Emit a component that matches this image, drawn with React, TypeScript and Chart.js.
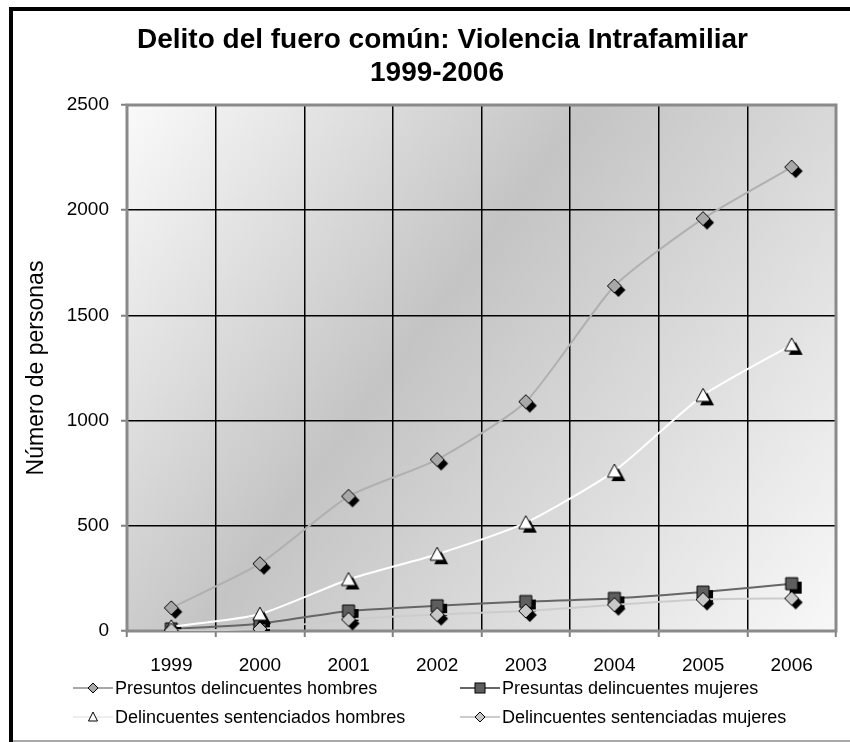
import React, { useEffect, useRef } from 'react';
import { Chart, registerables } from 'chart.js';

Chart.register(...registerables);

const FONT = "'Liberation Sans', Arial, sans-serif";

const years = ['1999', '2000', '2001', '2002', '2003', '2004', '2005', '2006'];
const presuntosHombres = [110, 320, 640, 815, 1090, 1640, 1960, 2205];
const presuntasMujeres = [10, 35, 95, 120, 140, 155, 185, 225];
const sentenciadosHombres = [20, 80, 245, 365, 515, 760, 1120, 1360];
const sentenciadasMujeres = [3, 10, 55, 78, 95, 125, 150, 155];

const titleLines = ['Delito del fuero común: Violencia Intrafamiliar', '1999-2006'];
const yTitle = 'Número de personas';
const legendNames = [
  'Presuntos delincuentes hombres',
  'Presuntas delincuentes mujeres',
  'Delincuentes sentenciados hombres',
  'Delincuentes sentenciadas mujeres',
];

type Shape = 'diamond' | 'square' | 'triangle';

function shapePath(ctx: CanvasRenderingContext2D, shape: Shape, cx: number, cy: number) {
  ctx.beginPath();
  if (shape === 'diamond') {
    ctx.moveTo(cx, cy - 7);
    ctx.lineTo(cx + 7, cy);
    ctx.lineTo(cx, cy + 7);
    ctx.lineTo(cx - 7, cy);
  } else if (shape === 'square') {
    ctx.rect(cx - 6, cy - 6, 12, 12);
  } else {
    ctx.moveTo(cx, cy - 7);
    ctx.lineTo(cx + 7, cy + 6);
    ctx.lineTo(cx - 7, cy + 6);
  }
  ctx.closePath();
}

function makeMarker(shape: Shape, fill: string): HTMLCanvasElement {
  const c = document.createElement('canvas');
  const S = 28;
  c.width = S;
  c.height = S;
  const ctx = c.getContext('2d')!;
  const m = S / 2;
  shapePath(ctx, shape, m + 4, m + 4);
  ctx.fillStyle = '#000';
  ctx.fill();
  shapePath(ctx, shape, m, m);
  ctx.fillStyle = fill;
  ctx.fill();
  ctx.lineWidth = 1;
  ctx.strokeStyle = '#000';
  ctx.stroke();
  return c;
}

const bgPlugin = {
  id: 'bgPlugin',
  beforeDraw(chart: any) {
    const { ctx, chartArea: a, width, height } = chart;
    ctx.save();
    ctx.fillStyle = '#fff';
    ctx.fillRect(0, 0, width, height);
    const g = ctx.createLinearGradient(a.left, a.top, a.right, a.bottom);
    g.addColorStop(0, '#fafafa');
    g.addColorStop(0.42, '#c4c4c4');
    g.addColorStop(1, '#f8f8f8');
    ctx.fillStyle = g;
    ctx.fillRect(a.left, a.top, a.right - a.left, a.bottom - a.top);
    ctx.fillStyle = '#000';
    ctx.fillRect(9, 7, width - 9, 4);
    ctx.fillRect(9, 7, 4, height - 7);
    ctx.fillStyle = '#a8a8a8';
    ctx.fillRect(13, height - 2, width - 13, 2);
    ctx.restore();
  },
  beforeDatasetsDraw(chart: any) {
    const { ctx, chartArea: a } = chart;
    ctx.save();
    ctx.strokeStyle = '#8a8a8a';
    ctx.lineWidth = 3;
    ctx.strokeRect(a.left, a.top, a.right - a.left, a.bottom - a.top);
    ctx.restore();
  },
};

function LegendMarker({ shape, fill, line }: { shape: Shape; fill: string; line: string }) {
  let mk: React.ReactNode;
  if (shape === 'diamond') mk = <polygon points="20,3 25,8 20,13 15,8" fill={fill} stroke="#000" strokeWidth={1} />;
  else if (shape === 'square') mk = <rect x={15} y={3} width={10} height={10} fill={fill} stroke="#000" strokeWidth={1} />;
  else mk = <polygon points="20,3 24.5,12 15.5,12" fill={fill} stroke="#000" strokeWidth={1} />;
  return (
    <svg width={40} height={16} style={{ position: 'absolute', left: 0, top: 2 }}>
      <line x1={0} y1={8} x2={40} y2={8} stroke={line} strokeWidth={2} />
      {mk}
    </svg>
  );
}

export default function App() {
  const ref = useRef<HTMLCanvasElement>(null);

  useEffect(() => {
    document.body.style.margin = '0';
    const canvas = ref.current!;
    const chart = new Chart(canvas, {
      type: 'line',
      data: {
        labels: years,
        datasets: [
          {
            label: legendNames[0],
            data: presuntosHombres,
            borderColor: '#b0b0b0',
            borderWidth: 2,
            pointStyle: makeMarker('diamond', '#a8a8a8') as any,
            tension: 0.2,
            order: 3,
          },
          {
            label: legendNames[1],
            data: presuntasMujeres,
            borderColor: '#666666',
            borderWidth: 2,
            pointStyle: makeMarker('square', '#5e5e5e') as any,
            tension: 0.2,
            order: 2,
          },
          {
            label: legendNames[2],
            data: sentenciadosHombres,
            borderColor: '#ffffff',
            borderWidth: 2,
            pointStyle: makeMarker('triangle', '#ffffff') as any,
            tension: 0.2,
            order: 1,
          },
          {
            label: legendNames[3],
            data: sentenciadasMujeres,
            borderColor: '#cccccc',
            borderWidth: 2,
            pointStyle: makeMarker('diamond', '#c8c8c8') as any,
            tension: 0.2,
            order: 0,
          },
        ],
      },
      options: {
        responsive: false,
        animation: false,
        devicePixelRatio: 1,
        layout: { padding: { left: 0, top: 105, right: 14, bottom: 0 } },
        plugins: {
          legend: { display: false },
          tooltip: { enabled: false },
          title: { display: false },
        },
        scales: {
          x: {
            offset: true,
            grid: { offset: true, color: '#000', lineWidth: 1.5, tickLength: 6, tickColor: '#808080', tickWidth: 2 },
            border: { display: false },
            ticks: { color: '#000', font: { size: 19, family: FONT }, padding: 17 },
            afterFit: (s: any) => {
              s.height = 111;
            },
          },
          y: {
            min: 0,
            max: 2500,
            grid: { color: '#000', lineWidth: 1.5, tickLength: 6, tickColor: '#808080', tickWidth: 2 },
            border: { display: false },
            ticks: {
              stepSize: 500,
              color: '#000',
              font: { size: 19, family: FONT },
              padding: 12,
              callback: (v: any) => String(v),
            },
            title: {
              display: true,
              text: yTitle,
              color: '#000',
              font: { size: 23, family: FONT },
              padding: { top: 23, bottom: 0 },
            },
            afterFit: (s: any) => {
              s.width = 127;
            },
          },
        },
      },
      plugins: [bgPlugin],
    });
    return () => chart.destroy();
  }, []);

  const items = [
    { name: legendNames[0], shape: 'diamond' as Shape, fill: '#a8a8a8', line: '#a8a8a8', left: 73, top: 688 },
    { name: legendNames[1], shape: 'square' as Shape, fill: '#5e5e5e', line: '#666666', left: 460, top: 688 },
    { name: legendNames[2], shape: 'triangle' as Shape, fill: '#ffffff', line: '#eeeeee', left: 73, top: 717 },
    { name: legendNames[3], shape: 'diamond' as Shape, fill: '#c8c8c8', line: '#cccccc', left: 460, top: 717 },
  ];

  return (
    <div style={{ position: 'absolute', left: 0, top: 0, width: 850, height: 742, overflow: 'hidden', background: '#fff' }}>
      <canvas ref={ref} width={850} height={742} style={{ position: 'absolute', left: 0, top: 0 }} />
      {titleLines.map((t, i) => (
        <div
          key={t}
          style={{
            position: 'absolute',
            left: 137,
            width: 600,
            top: 22 + i * 33,
            height: 34,
            lineHeight: '34px',
            textAlign: 'center',
            whiteSpace: 'nowrap',
            fontFamily: FONT,
            fontWeight: 'bold',
            fontSize: 28,
            color: '#000',
          }}
        >
          {t}
        </div>
      ))}
      {items.map((it) => (
        <div
          key={it.name}
          style={{
            position: 'absolute',
            left: it.left,
            top: it.top - 10,
            height: 20,
            lineHeight: '20px',
            whiteSpace: 'nowrap',
            fontFamily: FONT,
            fontSize: 18,
            color: '#000',
          }}
        >
          <LegendMarker shape={it.shape} fill={it.fill} line={it.line} />
          <span style={{ position: 'absolute', left: 42, top: 0 }}>{it.name}</span>
        </div>
      ))}
    </div>
  );
}
